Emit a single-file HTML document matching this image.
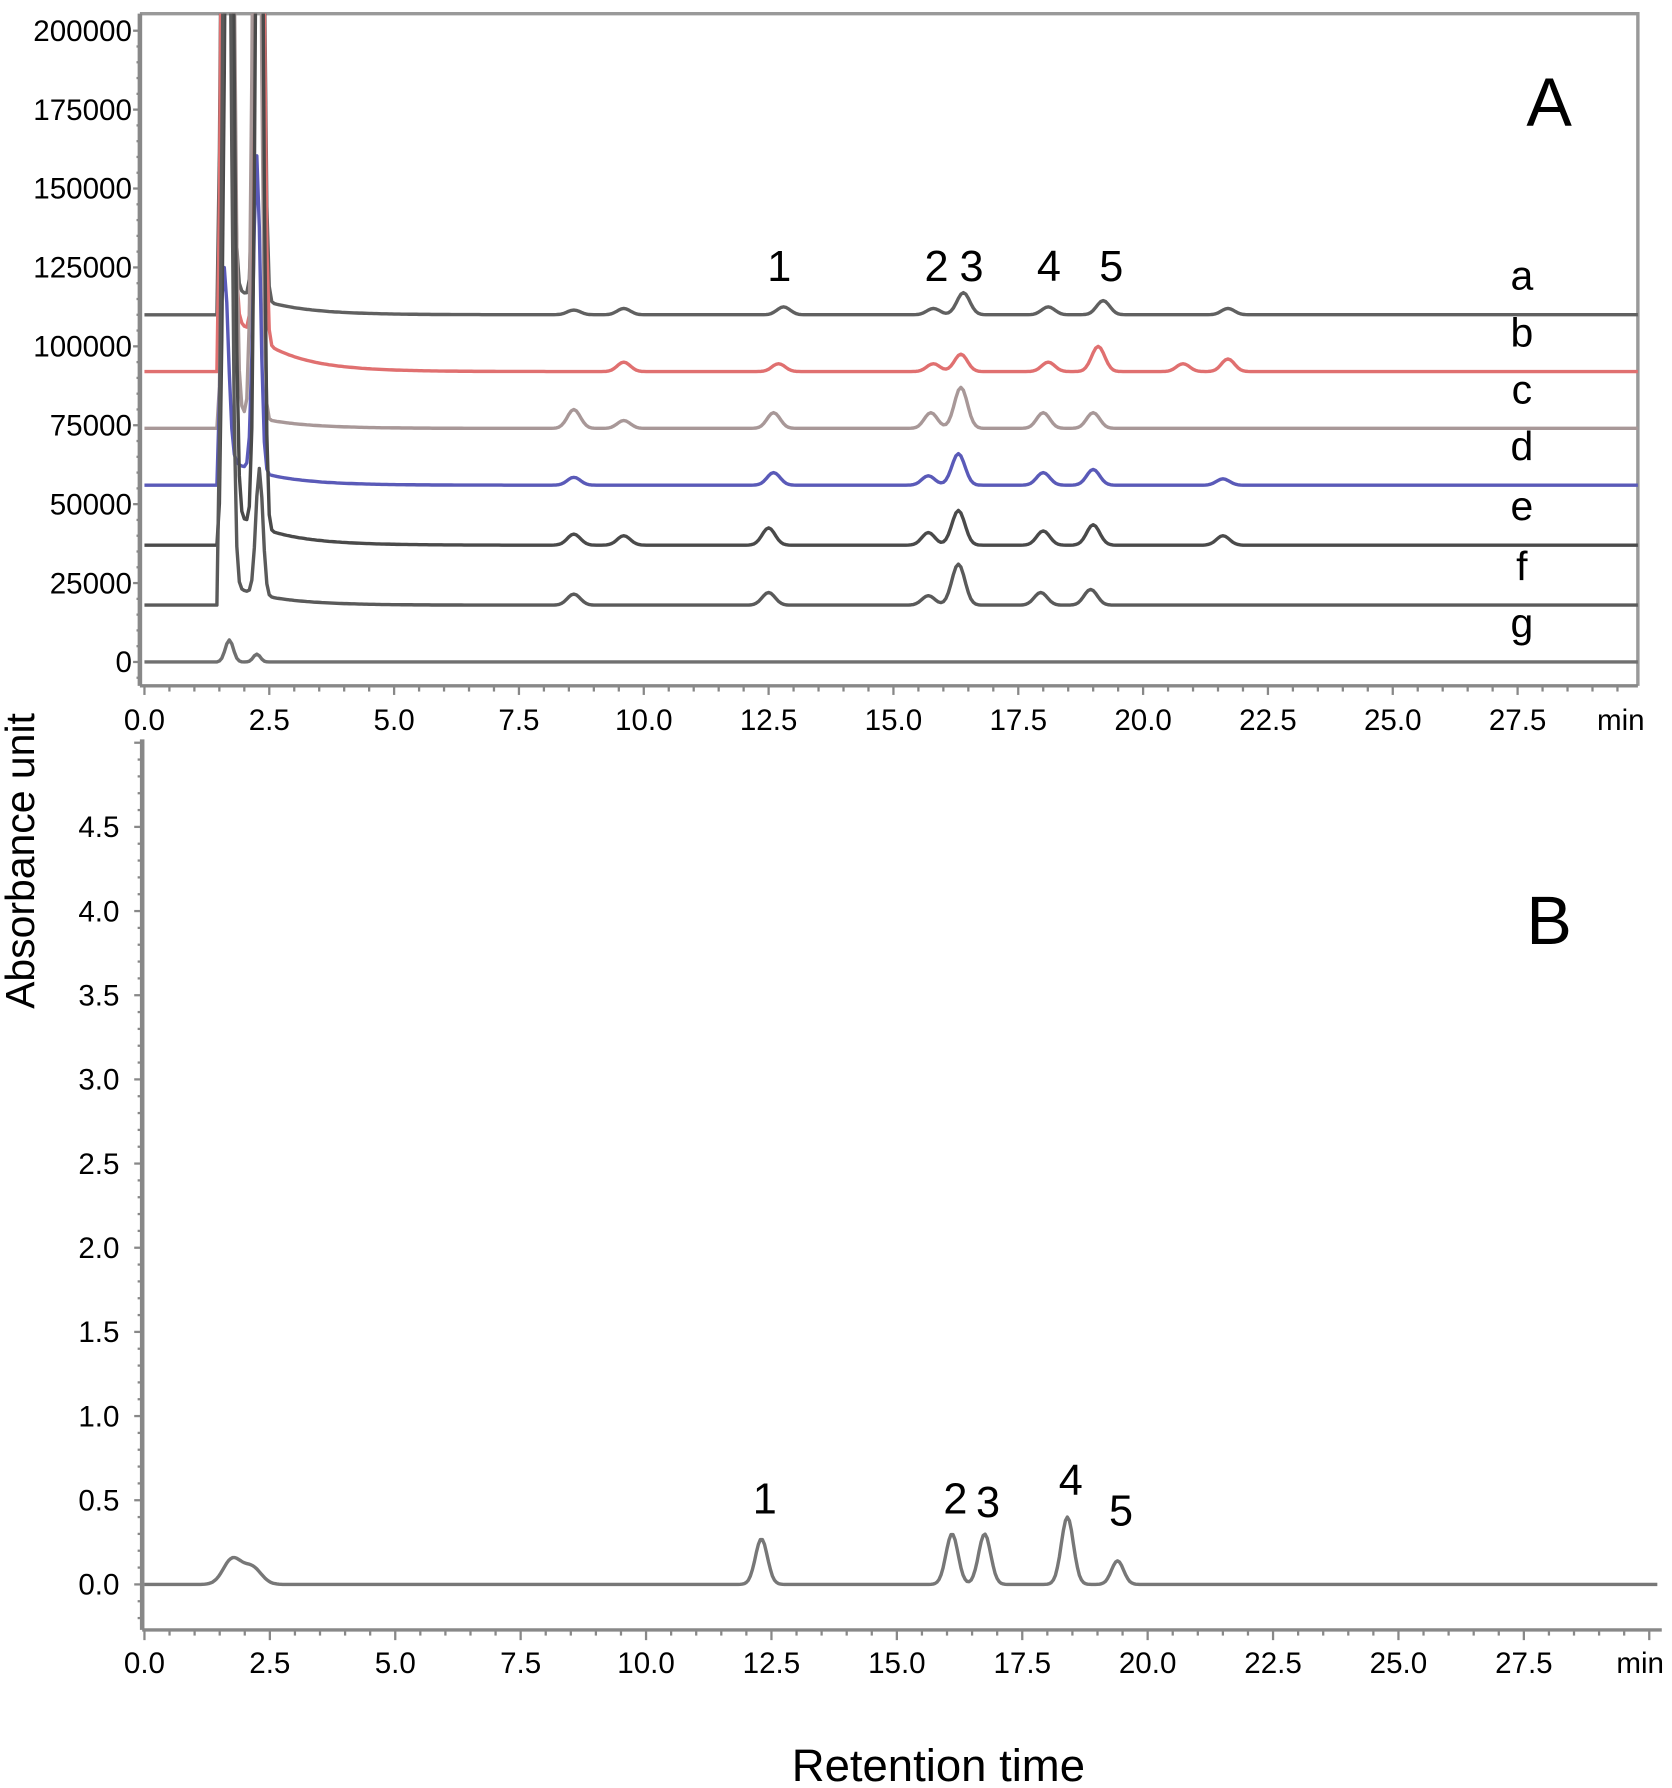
<!DOCTYPE html>
<html><head><meta charset="utf-8"><style>
html,body{margin:0;padding:0;background:#fff}
svg{display:block}
text{font-family:"Liberation Sans",sans-serif;fill:#000}
</style></head><body>
<svg id="chart" width="1672" height="1788" viewBox="0 0 1470 1572" preserveAspectRatio="none" xmlns="http://www.w3.org/2000/svg">
<g id="gA"></g>
<g id="gB"></g>
<text transform="translate(30,757) rotate(-90)" text-anchor="middle" font-size="36">Absorbance unit</text>
<text x="825" y="1566" text-anchor="middle" font-size="40">Retention time</text>
<text x="1362" y="111" text-anchor="middle" font-size="60">A</text>
<text x="1362" y="830" text-anchor="middle" font-size="60">B</text>
</svg>
<script>
// ---- data ----
const xTicks = [0,2.5,5,7.5,10,12.5,15,17.5,20,22.5,25,27.5];
const xTickLabels = ["0.0","2.5","5.0","7.5","10.0","12.5","15.0","17.5","20.0","22.5","25.0","27.5"];
const aYTicks = [0,25000,50000,75000,100000,125000,150000,175000,200000];
const bYTicks = [0,0.5,1,1.5,2,2.5,3,3.5,4,4.5];
const bYTickLabels = ["0.0","0.5","1.0","1.5","2.0","2.5","3.0","3.5","4.0","4.5"];
const traceNames = ["a","b","c","d","e","f","g"];
const traceColors = ["#606060","#e07070","#a89898","#5a5ab8","#4a4a4a","#5a5a5a","#707070"];
const traceBaselines = [110000,92000,74000,56000,37000,18000,0];
const traceFront = [[1.65,300000],[1.65,300000],[1.7,300000],[1.6,60000],[1.7,300000],[1.65,300000],[1.7,7000]];
const traceFront2 = [[2.3,300000],[2.3,300000],[2.25,300000],[2.25,100000],[2.3,300000],[2.3,40000],[2.25,2500]];
const traceTail = [12000,25000,8000,10000,14000,8000,0];
const tracePeaks = [
 [[8.6,1500],[9.6,2000],[12.8,2500],[15.8,2000],[16.4,7000],[18.1,2500],[19.2,4500],[21.7,2000]],
 [[9.6,3000],[12.7,2500],[15.8,2500],[16.35,5500],[18.1,3000],[19.1,8000],[20.8,2500],[21.7,4000]],
 [[8.6,6000],[9.6,2500],[12.6,5000],[15.75,5000],[16.35,13000],[18.0,5000],[19.0,5000]],
 [[8.6,2500],[12.6,4000],[15.7,3000],[16.3,10000],[18.0,4000],[19.0,5000],[21.6,2000]],
 [[8.6,3500],[9.6,3000],[12.5,5500],[15.7,4000],[16.3,11000],[18.0,4500],[19.0,6500],[21.6,3000]],
 [[8.6,3500],[12.5,4000],[15.7,3000],[16.3,13000],[17.95,4000],[18.95,5000]],
 []
];
const peakLabelsA = ["1","2","3","4","5"];
const peakLabelTimesA = [12.6,15.75,16.45,18.0,19.25];
const bPeakTimes = [1.75,2.15,12.3,16.1,16.75,18.4,19.4];
const bPeakHeights = [0.15,0.1,0.27,0.3,0.3,0.4,0.14];
const bPeakLabels = ["1","2","3","4","5"];
const bPeakLabelTimes = [12.3,16.1,16.75,18.4,19.4];
const bPeakLabelVals = [0.42,0.42,0.4,0.53,0.35];

const NS="http://www.w3.org/2000/svg";
function mk(tag,attrs,parent,txt){const e=document.createElementNS(NS,tag);for(const k in attrs)e.setAttribute(k,attrs[k]);if(txt!==undefined)e.textContent=txt;parent.appendChild(e);return e;}
const xA=t=>127+t*43.9;
const yA=v=>582-v*(555/200000);
const xB=t=>127+t*44.1;
const yB=v=>1393-v*148;
const gauss=(t,c,s)=>Math.exp(-((t-c)*(t-c))/(2*s*s));

// ---- panel A ----
const gA=document.getElementById('gA');
mk('defs',{},gA).innerHTML='<clipPath id="clipA"><rect x="123" y="12" width="1317" height="591"/></clipPath>';
let fr=mk('path',{d:'M123 12 H1440 V603',fill:'none',stroke:'#999','stroke-width':3},gA);

let ax=mk('line',{x1:123,y1:12,x2:123,y2:603,stroke:'#888','stroke-width':4},gA);

let bx=mk('line',{x1:123,y1:603,x2:1440,y2:603,stroke:'#888','stroke-width':3},gA);

for(let v=-5000;v<=200000;v+=5000){const t=mk('line',{x1:v%25000===0?117:120,y1:yA(v),x2:123,y2:yA(v),stroke:'#888','stroke-width':2},gA);}
aYTicks.forEach(v=>{const t=mk('text',{x:116,y:yA(v)+9,'text-anchor':'end','font-size':26},gA,String(v));});
for(let m=0;m<=30;m+=0.5){const x=xA(m);if(x>1440)break;const t=mk('line',{x1:x,y1:603,x2:x,y2:Math.abs(m%2.5)<1e-6?611:608,stroke:'#888','stroke-width':2},gA);}
xTicks.forEach((v,i)=>{const t=mk('text',{x:xA(v),y:642,'text-anchor':'middle','font-size':26},gA,xTickLabels[i]);});
let mn=mk('text',{x:1425,y:642,'text-anchor':'middle','font-size':26},gA,'min');
const traceG=mk('g',{'clip-path':'url(#clipA)'},gA);
traceNames.forEach((n,i)=>{
  let d='';
  for(let t=0;t<=30.4;t+=0.05){
    let v=traceBaselines[i];
    if(t>=1.5){
      v+=traceFront[i][1]*gauss(t,traceFront[i][0],0.08);
      v+=traceFront2[i][1]*gauss(t,traceFront2[i][0],0.07);
      v+=traceTail[i]*Math.exp(-(t-1.5)/0.9)*(t>1.55?1:0);
    }
    tracePeaks[i].forEach(p=>{v+=p[1]*gauss(t,p[0],0.13);});
    const x=xA(t);if(x>1442)break;
    d+=(d?'L':'M')+x.toFixed(1)+' '+yA(v).toFixed(1);
  }
  const p=mk('path',{d:d,fill:'none',stroke:traceColors[i],'stroke-width':3,'stroke-linejoin':'round'},traceG);
  
  const l=mk('text',{x:1338,y:yA(traceBaselines[i])-22,'text-anchor':'middle','font-size':36},gA,n);
  
});
peakLabelsA.forEach((s,i)=>{const t=mk('text',{x:xA(peakLabelTimesA[i])+5,y:247,'text-anchor':'middle','font-size':38},gA,s);});

// ---- panel B ----
const gB=document.getElementById('gB');
let ay=mk('line',{x1:125,y1:650,x2:125,y2:1433,stroke:'#888','stroke-width':4},gB);

let axb=mk('line',{x1:125,y1:1433,x2:1461,y2:1433,stroke:'#888','stroke-width':3},gB);

for(let k=-2;k<=50;k++){const v=k/10;const y=yB(v);if(y<652)break;const t=mk('line',{x1:k%5===0?118:121,y1:y,x2:125,y2:y,stroke:'#888','stroke-width':2},gB);}
bYTicks.forEach((v,i)=>{const t=mk('text',{x:105,y:yB(v)+9,'text-anchor':'end','font-size':26},gB,bYTickLabels[i]);});
for(let m=0;m<=30;m+=0.5){const x=xB(m);if(x>1462)break;const t=mk('line',{x1:x,y1:1433,x2:x,y2:Math.abs(m%2.5)<1e-6?1442:1438,stroke:'#888','stroke-width':2},gB);}
xTicks.forEach((v,i)=>{const t=mk('text',{x:xB(v),y:1471,'text-anchor':'middle','font-size':26},gB,xTickLabels[i]);});
let mn2=mk('text',{x:1442,y:1471,'text-anchor':'middle','font-size':26},gB,'min');
let db='';
for(let t=0;t<=30.2;t+=0.04){
  let v=0;
  bPeakTimes.forEach((c,i)=>{v+=bPeakHeights[i]*gauss(t,c,i<2?0.18:0.12);});
  const x=xB(t);if(x>1458)break;
  db+=(db?'L':'M')+x.toFixed(1)+' '+yB(v).toFixed(1);
}
let pb=mk('path',{d:db,fill:'none',stroke:'#777','stroke-width':3,'stroke-linejoin':'round'},gB);

bPeakLabels.forEach((s,i)=>{const t=mk('text',{x:xB(bPeakLabelTimes[i])+3,y:yB(bPeakLabelVals[i]),'text-anchor':'middle','font-size':38},gB,s);});
</script>
</body></html>
